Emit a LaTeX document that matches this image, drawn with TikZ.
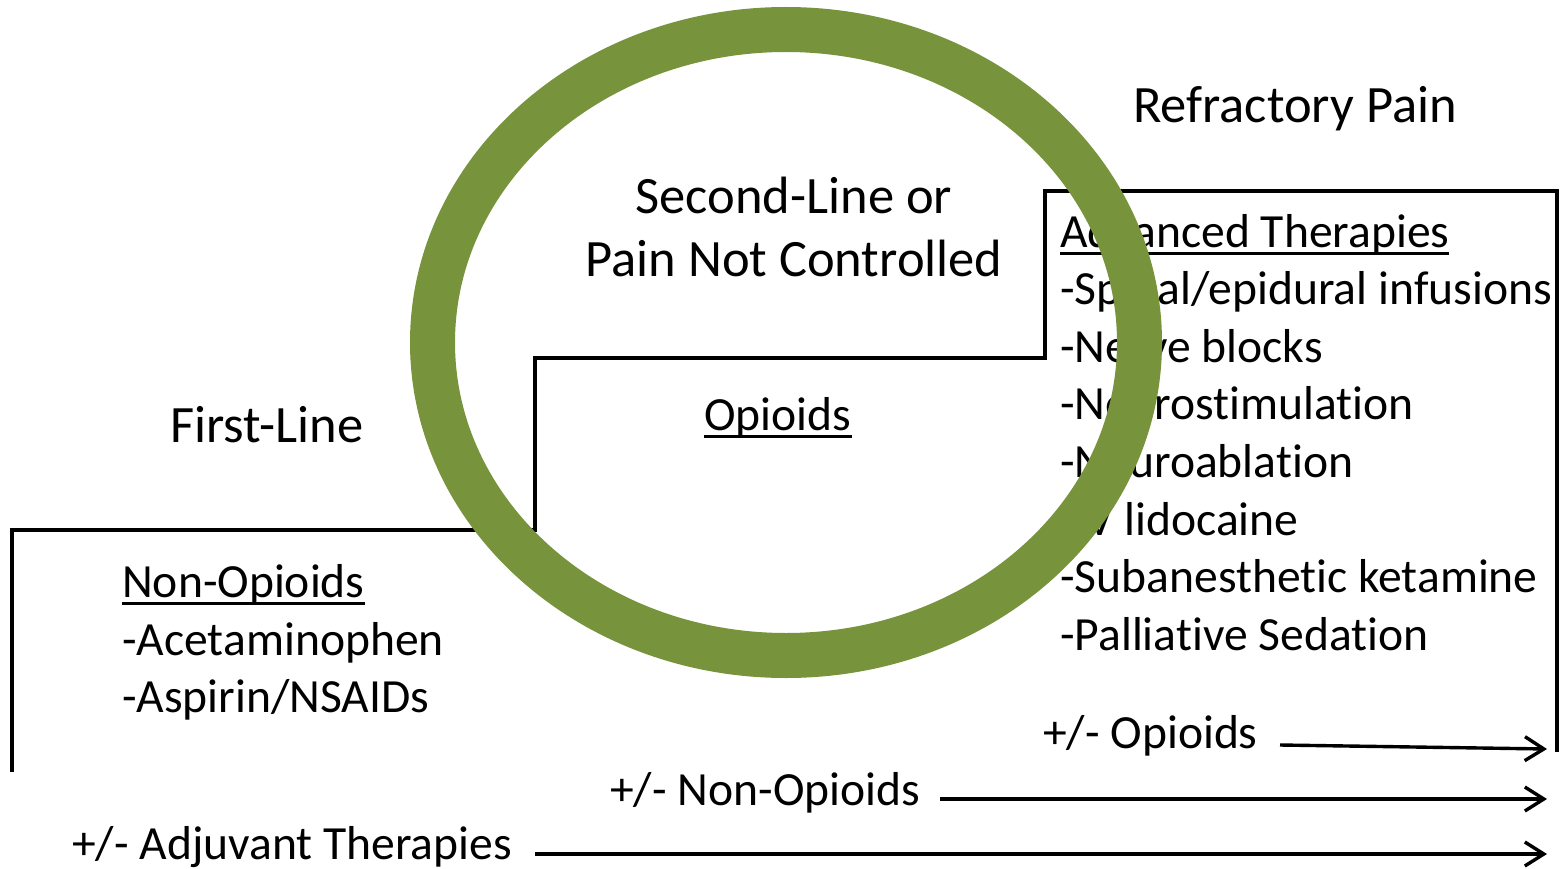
\documentclass[tikz,border=0pt]{standalone}
\usepackage{fontspec}
\setmainfont{Carlito}[Ligatures=NoCommon]
\usetikzlibrary{arrows.meta}
\definecolor{ringgreen}{HTML}{77933C}
\newcommand\ulx[1]{\setbox0\hbox{#1}\rlap{\rule[-8pt]{\wd0}{2.8pt}}\box0}
\begin{document}
\begin{tikzpicture}[x=1pt,y=-1pt,
  big/.style={font=\fontsize{52.5}{63.5}\selectfont, inner sep=0, anchor=base},
  lst/.style={font=\fontsize{47.6}{57.6}\selectfont, inner sep=0, anchor=base west},
  stepline/.style={line width=3.6pt, line join=miter},
  arr/.style={line width=3.4pt, -{Straight Barb[length=19pt,width=24pt,line width=3.4pt]}}]
\useasboundingbox (0,0) rectangle (1560,869);
\fill[white] (0,0) rectangle (1560,869);
% staircase
\draw[stepline] (12,772) -- (12,530) -- (535,530) -- (535,358) -- (1045,358) -- (1045,191) -- (1557,191) -- (1557,752);
% titles
\node[big] (refr) at (1295,123) {Refractory Pain};
\node[big] (sec1) at (794,213) {Second-Line or};
\node[big] (sec2) at (794,276) {Pain Not Controlled};
\node[big] (first) at (267,442) {First-Line};
% opioids
\node[lst, anchor=base] (opi) at (778,430) {\ulx{Opioids}};
% first line list
\node[lst] (non) at (122,597) {\ulx{Non-Opioids}};
\node[lst] (acet) at (122,655) {-Acetaminophen};
\node[lst] (asp) at (122,712) {-Aspirin/NSAIDs};
% advanced list
\node[lst] (adv) at (1060,247) {\ulx{Advanced Therapies}};
\node[lst] (a1) at (1060,304.6) {-Spinal/epidural infusions};
\node[lst] (a2) at (1060,362.2) {-Nerve blocks};
\node[lst] (a3) at (1060,419.8) {-Neurostimulation};
\node[lst] (a4) at (1060,477.4) {-Neuroablation};
\node[lst] (a5) at (1060,535) {-IV lidocaine};
\node[lst] (a6) at (1060,592.6) {-Subanesthetic ketamine};
\node[lst] (a7) at (1060,650.2) {-Palliative Sedation};
% bottom labels
\node[lst] (po) at (1043,748) {+/- Opioids};
\node[lst] (pn) at (610,805) {+/- Non-Opioids};
\node[lst] (pa) at (72,859) {+/- Adjuvant Therapies};
\coordinate (poS) at (1280,745);
\coordinate (poE) at (1547,749);
\coordinate (pnS) at (940,799);
\coordinate (pnE) at (1547,799);
\coordinate (paS) at (535,854);
\coordinate (paE) at (1547,854);
\draw[arr] (poS) -- (poE);
\draw[arr] (pnS) -- (pnE);
\draw[arr] (paS) -- (paE);
% ring
\node[inner sep=0] (ringc) at (786,342.5) {};
\draw[ringgreen, line width=45pt] (ringc) ellipse [x radius=353.5pt, y radius=313pt];
\end{tikzpicture}
\end{document}
